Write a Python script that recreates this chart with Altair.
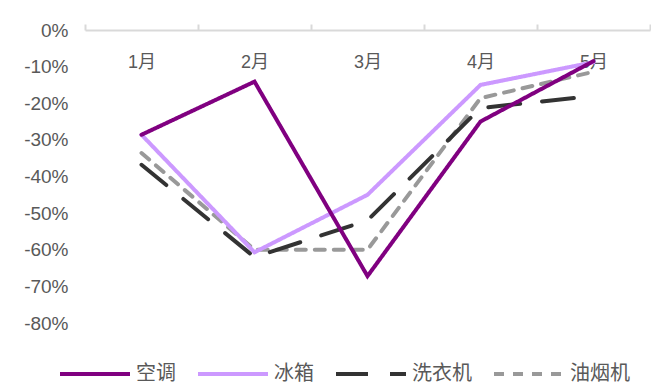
import altair as alt
import pandas as pd

months = ["1月", "2月", "3月", "4月", "5月"]
series = ["空调", "冰箱", "洗衣机", "油烟机"]
ac = [-28.6, -14.1, -67.2, -25.0, -8.5]
fridge = [-28.6, -60.7, -45.0, -15.0, -8.8]
washer = [-36.8, -62.0, -52.0, -21.3, -18.0]
hood = [-33.6, -60.0, -60.0, -18.6, -11.4]
colors = ["#800080", "#CC99FF", "#333333", "#999999"]
dashes = [[1, 0], [1, 0], [32, 22], [10, 9]]

values = {"空调": ac, "冰箱": fridge, "洗衣机": washer, "油烟机": hood}
draw_order = ["油烟机", "洗衣机", "冰箱", "空调"]
rows = []
for s in draw_order:
    for m, v in zip(months, values[s]):
        rows.append({"月份": m, "系列": s, "值": v})
df = pd.DataFrame(rows)

FONT = "Liberation Sans, Noto Sans CJK SC"
GRAY = "#595959"

legend_common = dict(orient="none", legendX=-35, legendY=334, direction="horizontal",
                     symbolType="M0,0H14", symbolSize=100, symbolStrokeWidth=4,
                     labelFontSize=20, labelColor=GRAY, labelFont=FONT,
                     labelOffset=66, columnPadding=12, padding=0)

chart = alt.Chart(df).mark_line(strokeWidth=4, strokeCap="round", strokeJoin="miter").encode(
    x=alt.X("月份:N", sort=months, title=None,
            scale=alt.Scale(type="band", paddingInner=0, paddingOuter=0),
            axis=alt.Axis(orient="top", tickBand="extent", domainColor="#d9d9d9", domainWidth=2,
                          tickColor="#d9d9d9", tickWidth=2, tickSize=6, labelAngle=0,
                          labelBaseline="middle", labelPadding=-38, labelFontSize=18,
                          labelColor=GRAY, labelFont=FONT, grid=False)),
    y=alt.Y("值:Q", title=None,
            scale=alt.Scale(domain=[-80, 0], nice=False, zero=False),
            axis=alt.Axis(values=[0, -10, -20, -30, -40, -50, -60, -70, -80],
                          labelExpr="round(datum.value) + '%'", domain=False, ticks=False,
                          grid=False, labelPadding=17, labelFontSize=19, labelColor=GRAY,
                          labelFont=FONT)),
    color=alt.Color("系列:N", scale=alt.Scale(domain=series, range=colors), title=None,
                    legend=alt.Legend(**legend_common)),
    strokeDash=alt.StrokeDash("系列:N", scale=alt.Scale(domain=series, range=dashes), title=None,
                              legend=alt.Legend(**legend_common)),
).properties(
    width=565, height=293,
    background="white",
    autosize=alt.AutoSizeParams(type="none"),
    padding={"left": 85, "top": 30, "right": 1, "bottom": 60},
).configure_view(strokeWidth=0)

chart.save("out.html", embed_options={"renderer": "svg", "actions": False})
